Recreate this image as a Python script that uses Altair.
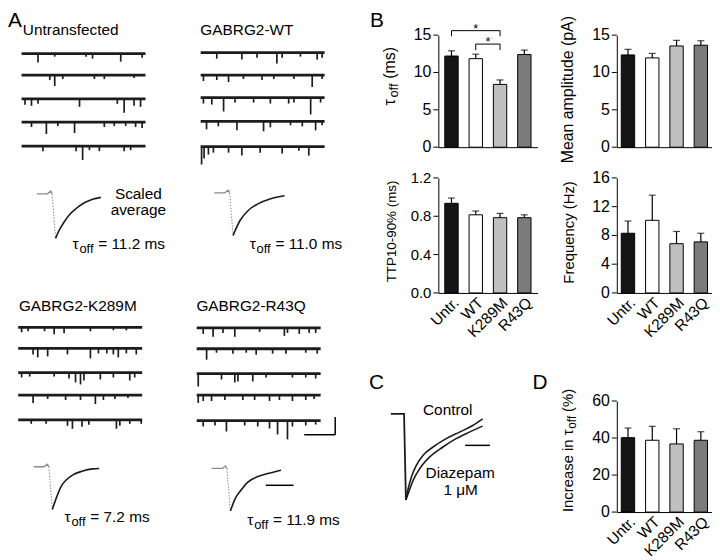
import altair as alt
import pandas as pd

FONT = "Liberation Sans"

# ---------------- data ----------------
groups = ["Untr.", "WT", "K289M", "R43Q"]
bar_colors = ["#151515", "#ffffff", "#c0c0c0", "#7b7b7b"]

tau_mean = [12.2, 11.85, 8.4, 12.4]
tau_err = [0.7, 0.6, 0.6, 0.6]
amp_mean = [12.35, 11.95, 13.55, 13.65]
amp_err = [0.75, 0.6, 0.75, 0.6]
ttp_mean = [0.935, 0.815, 0.785, 0.785]
ttp_err = [0.055, 0.04, 0.045, 0.03]
freq_mean = [8.3, 10.1, 6.85, 7.1]
freq_err = [1.7, 3.5, 1.7, 1.2]
dz_mean = [40.2, 38.8, 36.8, 38.8]
dz_err = [5.2, 7.5, 8.2, 4.6]

tau_ticks = [0, 5, 10, 15]
amp_ticks = [0, 5, 10, 15]
ttp_ticks = [0.0, 0.4, 0.8, 1.2]
freq_ticks = [0, 4, 8, 12, 16]
dz_ticks = [0, 20, 40, 60]

sig_pairs = [("Untr.", "K289M"), ("WT", "K289M")]
sig_level = [15.6, 13.8]
sig_leg_bottom = [14.85, 13.0]

cond_titles = ["Untransfected", "GABRG2-WT", "GABRG2-K289M", "GABRG2-R43Q"]
cond_tau = ["11.2", "11.0", "7.2", "11.9"]

# event times (s) and amplitudes (pA) for the 5 example sweeps per condition
event_t = {
    "Untr.": [
        [0.53, 1.07, 2.08, 2.29, 3.20, 3.89],
        [0.91, 1.07, 1.33, 2.35, 2.67, 3.63],
        [0.11, 0.32, 0.53, 1.87, 3.09, 3.31, 3.63, 3.84],
        [0.32, 0.80, 1.17, 1.71, 2.67, 2.99, 3.36, 3.68, 3.89],
        [0.69, 1.76, 1.97, 2.19, 2.51, 3.31, 3.52],
    ],
    "WT": [
        [0.52, 1.33, 1.82, 2.46, 2.63, 3.22, 3.76, 3.92],
        [0.09, 0.52, 0.90, 1.38, 1.98, 2.36, 3.01, 3.60, 3.92],
        [0.09, 0.36, 0.74, 1.11, 1.71, 2.25, 2.84, 3.01, 3.55, 3.87],
        [0.19, 0.57, 1.17, 2.03, 2.25, 2.90, 3.28, 3.71, 3.92],
        [0.03, 0.11, 0.25, 0.41, 0.90, 1.33, 1.92, 2.63, 3.17, 3.49],
    ],
    "K289M": [
        [0.11, 0.32, 0.85, 1.16, 1.48, 2.33, 3.07, 3.49],
        [0.48, 0.63, 0.95, 1.59, 2.33, 2.59, 2.86, 3.07, 3.23, 3.49, 3.81],
        [0.11, 0.37, 1.16, 1.64, 1.85, 2.01, 2.12, 2.65, 3.07, 3.60, 3.76],
        [0.48, 0.95, 1.53, 2.01, 2.49, 2.75, 3.12, 3.54],
        [0.42, 0.90, 1.59, 1.75, 2.06, 2.28, 3.17, 3.28, 3.60, 3.97],
    ],
    "R43Q": [
        [0.21, 0.53, 0.85, 1.23, 2.03, 2.83, 2.93, 3.31, 3.63, 3.84],
        [0.32, 0.64, 1.17, 1.60, 1.92, 2.45, 2.88, 3.52, 3.89],
        [0.05, 0.80, 1.23, 1.33, 1.81, 2.24, 3.09, 3.52, 3.84],
        [0.05, 0.21, 0.48, 0.91, 1.49, 1.87, 2.35, 2.67, 3.09, 3.52, 3.79],
        [0.21, 0.59, 0.96, 1.55, 1.97, 2.35, 2.61, 2.93, 3.09, 3.52, 3.84],
    ],
}
event_a = {
    "Untr.": [
        [9, 3, 3, 5, 8, 4],
        [5, 11, 4, 4, 4, 3],
        [6, 7, 5, 8, 5, 14, 7, 8],
        [5, 12, 4, 11, 5, 4, 4, 5, 6],
        [5, 5, 14, 4, 5, 5, 4],
    ],
    "WT": [
        [6, 7, 5, 11, 5, 4, 7, 5],
        [6, 5, 7, 4, 5, 4, 4, 12, 4],
        [6, 7, 14, 5, 5, 6, 6, 5, 17, 5],
        [8, 5, 9, 10, 6, 4, 5, 9, 4],
        [18, 12, 8, 6, 6, 9, 6, 7, 4, 9],
    ],
    "K289M": [
        [5, 4, 4, 7, 6, 4, 3, 3],
        [6, 9, 8, 6, 10, 5, 5, 6, 9, 5, 6],
        [5, 4, 4, 6, 10, 12, 8, 7, 5, 8, 5],
        [8, 4, 5, 5, 9, 5, 4, 3],
        [4, 4, 6, 9, 7, 5, 9, 6, 4, 4],
    ],
    "R43Q": [
        [6, 9, 5, 9, 4, 8, 5, 6, 5, 5],
        [11, 4, 5, 4, 6, 5, 5, 4, 5],
        [13, 6, 9, 8, 8, 4, 4, 4, 5],
        [8, 6, 6, 5, 5, 5, 6, 5, 6, 5, 4],
        [6, 5, 11, 5, 6, 8, 14, 19, 6, 5, 4],
    ],
}

# scaled averages: time (ms) from peak, normalised current
avg_pre_t = [-13.5, -6.0, -3.5, -2.5]
avg_pre_y = [0.0, 0.0, 0.06, 0.0]
avg_t = {
    "Untr.": [0, 2.9, 6.4, 10.0, 14.8, 20.7, 26.7, 32.6],
    "WT": [0, 5.0, 10.7, 17.9, 27.1, 37.1],
    "K289M": [0, 2.9, 6.4, 10.0, 14.8, 21.9, 29.0, 33.8],
    "R43Q": [0, 3.1, 7.9, 12.6, 19.8, 26.9, 36.4],
}
avg_y = {
    "Untr.": [-1.0, -0.80, -0.62, -0.47, -0.33, -0.20, -0.12, -0.08],
    "WT": [-1.0, -0.65, -0.42, -0.26, -0.14, -0.07],
    "K289M": [-1.0, -0.73, -0.46, -0.31, -0.19, -0.10, -0.05, -0.04],
    "R43Q": [-1.0, -0.73, -0.50, -0.32, -0.19, -0.12, -0.04],
}

# panel C: control vs diazepam (ms, normalised)
c_pre_t = [-12.2, -1.5]
c_pre_y = [0.0, 0.0]
ctrl_t = [0, 1.9, 4.5, 8.5, 13.9, 21.9, 32.5, 43.2, 53.9, 61.9]
ctrl_y = [-1.0, -0.865, -0.73, -0.596, -0.48, -0.385, -0.288, -0.212, -0.135, -0.058]
diaz_t = [0, 1.9, 5.9, 11.2, 19.2, 29.9, 40.5, 51.2, 61.9]
diaz_y = [-1.0, -0.923, -0.77, -0.635, -0.5, -0.385, -0.288, -0.212, -0.142]

# ---------------- layout constants ----------------
OFF = 8.0
A_W, A_H = 354, 540
PX_PER_S = 31.25
PX_PER_PA = 1.0
TRACE_LEN_S = 4.0
PX_PER_MS_A = 1.4
trace_x0 = {"Untr.": 21.7, "WT": 202.3, "K289M": 18.3, "R43Q": 198.3}
trace_y = {
    "Untr.": [51.7, 73.3, 97.3, 120.7, 145.0],
    "WT": [50.7, 73.3, 96.0, 120.0, 145.5],
    "K289M": [327.7, 349.0, 373.3, 396.0, 421.0],
    "R43Q": [328.3, 349.3, 374.3, 396.0, 421.7],
}
avg_pos = {"Untr.": (56.0, 193.0, 45.0), "WT": (235.0, 192.0, 43.0),
           "K289M": (52.7, 468.3, 43.0), "R43Q": (232.3, 470.0, 43.0)}
title_pos = [(23, 33), (202, 33), (19, 311.7), (198, 311.7)]
tau_pos = [(73, 248.3), (251.7, 248.3), (65, 524.5), (249.3, 527)]


def txt(s, x, y, size, align="left", baseline="alphabetic", angle=0, color="black", dx=0):
    return alt.Chart(pd.DataFrame({"s": [s]})).mark_text(
        align=align, baseline=baseline, angle=angle, fontSize=size,
        color=color, font=FONT, dx=dx
    ).encode(x=alt.value(x), y=alt.value(y), text="s:N")


# ---------------- panel A ----------------
XA = alt.Scale(domain=[0, A_W], range=[0, A_W])
YA = alt.Scale(domain=[0, A_H], range=[0, A_H])

base_rows, ev_rows = [], []
for g in groups:
    for i in range(5):
        y0 = trace_y[g][i] - OFF
        x0 = trace_x0[g] - OFF
        base_rows.append({"x": x0, "x2": x0 + TRACE_LEN_S * PX_PER_S, "y": y0})
        for t, a in zip(event_t[g][i], event_a[g][i]):
            ev_rows.append({"x": x0 + t * PX_PER_S, "y": y0, "y2": y0 + a * PX_PER_PA})

pre_rows, drop_rows, dec_rows = [], [], []
for g in groups:
    px, by, amp = avg_pos[g]
    for t, v in zip(avg_pre_t, avg_pre_y):
        pre_rows.append({"g": g, "t": t, "x": px + t * PX_PER_MS_A - OFF, "y": by - v * amp - OFF})
    for t, v in [(avg_pre_t[-1], avg_pre_y[-1]), (avg_t[g][0], avg_y[g][0])]:
        drop_rows.append({"g": g, "t": t, "x": px + t * PX_PER_MS_A - OFF, "y": by - v * amp - OFF})
    for t, v in zip(avg_t[g], avg_y[g]):
        dec_rows.append({"g": g, "t": t, "x": px + t * PX_PER_MS_A - OFF, "y": by - v * amp - OFF})

layersA = []
layersA.append(alt.Chart(pd.DataFrame(base_rows)).mark_rule(color="#1c1c1c", strokeWidth=2.8).encode(
    x=alt.X("x:Q", scale=XA, axis=None), x2="x2:Q", y=alt.Y("y:Q", scale=YA, axis=None)))
layersA.append(alt.Chart(pd.DataFrame(ev_rows)).mark_rule(color="#1c1c1c", strokeWidth=1.7).encode(
    x=alt.X("x:Q", scale=XA, axis=None), y=alt.Y("y:Q", scale=YA, axis=None), y2="y2:Q"))
layersA.append(alt.Chart(pd.DataFrame(pre_rows)).mark_line(color="#8a8a8a", strokeWidth=1.3).encode(
    x=alt.X("x:Q", scale=XA, axis=None), y=alt.Y("y:Q", scale=YA, axis=None), detail="g:N", order="t:Q"))
layersA.append(alt.Chart(pd.DataFrame(drop_rows)).mark_line(color="#8a8a8a", strokeWidth=1, strokeDash=[1.5, 1.5]).encode(
    x=alt.X("x:Q", scale=XA, axis=None), y=alt.Y("y:Q", scale=YA, axis=None), detail="g:N", order="t:Q"))
layersA.append(alt.Chart(pd.DataFrame(dec_rows)).mark_line(color="#1c1c1c", strokeWidth=1.6, interpolate="monotone").encode(
    x=alt.X("x:Q", scale=XA, axis=None), y=alt.Y("y:Q", scale=YA, axis=None), detail="g:N", order="t:Q"))

# scale bars (1 s x 18 pA for sweeps; 20 ms for averages)
sb_x_end, sb_y = 338 - OFF, 436 - OFF
sb_rows = [
    {"x": sb_x_end - 1.0 * PX_PER_S, "x2": sb_x_end, "y": sb_y, "y2": sb_y},
    {"x": sb_x_end, "x2": sb_x_end, "y": sb_y - 18 * PX_PER_PA, "y2": sb_y},
    {"x": 268 - OFF, "x2": 268 - OFF + 20 * PX_PER_MS_A, "y": 487 - OFF, "y2": 487 - OFF},
]
layersA.append(alt.Chart(pd.DataFrame(sb_rows)).mark_rule(color="black", strokeWidth=1.5).encode(
    x=alt.X("x:Q", scale=XA, axis=None), x2="x2:Q", y=alt.Y("y:Q", scale=YA, axis=None), y2="y2:Q"))

layersA.append(txt("A", 0, 0, 21, baseline="top"))
for name, (tx, ty) in zip(cond_titles, title_pos):
    layersA.append(txt(name, tx - OFF, ty - OFF, 15.5))
layersA.append(txt("Scaled", 139.5 - OFF, 198 - OFF, 15.5, align="center"))
layersA.append(txt("average", 139.5 - OFF, 214 - OFF, 15.5, align="center"))
for val, (tx, ty) in zip(cond_tau, tau_pos):
    x, y = tx - OFF, ty - OFF
    layersA.append(txt("τ", x, y, 15.5))
    layersA.append(txt("off", x + 7, y + 4, 13))
    layersA.append(txt(f"= {val} ms", x + 26, y, 15.5))

panelA = alt.layer(*layersA).properties(width=A_W, height=A_H)


# ---------------- bar panels ----------------
def bar_layers(mean, err, ymax, ticks, fmt, width, show_labels, label_size=16):
    df = pd.DataFrame({"group": groups, "mean": mean,
                       "upper": [m + e for m, e in zip(mean, err)]})
    step = 24.5
    po = ((width / step) - 4 + 0.45) / 2
    if show_labels:
        xaxis = alt.Axis(title=None, ticks=False, domainColor="black", labelAngle=315,
                         labelFontSize=15.5, labelPadding=2, labelColor="black",
                         labelAlign="right", labelBaseline="top", labelOverlap=False)
    else:
        xaxis = alt.Axis(title=None, ticks=False, labels=False, domainColor="black")
    xenc = alt.X("group:N", sort=groups,
                 scale=alt.Scale(domain=groups, paddingInner=0.45, paddingOuter=po), axis=xaxis)
    yscale = alt.Scale(domain=[0, ymax], nice=False)
    yenc = alt.Y("mean:Q", scale=yscale,
                 axis=alt.Axis(title=None, grid=False, ticks=False, labels=False,
                               domainColor="black"))
    base = alt.Chart(df)
    bars = base.mark_bar(stroke="black", strokeWidth=1).encode(
        x=xenc, y=yenc,
        color=alt.Color("group:N", scale=alt.Scale(domain=groups, range=bar_colors), legend=None))
    stem = base.mark_rule(color="black", strokeWidth=1.2).encode(
        x=alt.X("group:N", sort=groups), y="mean:Q", y2="upper:Q")
    cap = base.mark_tick(color="black", thickness=1.2, size=7, orient="horizontal").encode(
        x=alt.X("group:N", sort=groups), y="upper:Q")
    labs = [format(v, fmt) for v in ticks]
    tdf = pd.DataFrame({"v": ticks, "lab": labs})
    tick_rules = alt.Chart(tdf).mark_rule(color="black", strokeWidth=1).encode(
        y=alt.Y("v:Q"), x=alt.value(-5), x2=alt.value(0))
    tick_labels = alt.Chart(tdf).mark_text(align="right", baseline="middle", fontSize=label_size,
                                           font=FONT, color="black").encode(
        y=alt.Y("v:Q"), x=alt.value(-7), text="lab:N")
    return [bars, stem, cap, tick_rules, tick_labels]


W2, W3 = 100, 96
H1, H2, H3 = 113, 116, 112

# tau
tau_l = bar_layers(tau_mean, tau_err, 15, tau_ticks, "d", W2, False)
br = pd.DataFrame({"g1": [p[0] for p in sig_pairs], "g2": [p[1] for p in sig_pairs], "level": sig_level})
legs = pd.DataFrame({
    "g": [p[0] for p in sig_pairs] + [p[1] for p in sig_pairs],
    "top": sig_level + sig_level,
    "bottom": sig_leg_bottom + sig_leg_bottom,
})
tau_l.append(alt.Chart(br).mark_rule(color="black", strokeWidth=1).encode(
    x=alt.X("g1:N", sort=groups), x2="g2:N", y="level:Q"))
tau_l.append(alt.Chart(legs).mark_rule(color="black", strokeWidth=1).encode(
    x=alt.X("g:N", sort=groups), y="top:Q", y2="bottom:Q"))
star1 = pd.DataFrame({"g": ["WT"], "level": [sig_level[0]], "s": ["*"]})
star2 = pd.DataFrame({"g": ["K289M"], "level": [sig_level[1]], "s": ["*"]})
tau_l.append(alt.Chart(star1).mark_text(fontSize=13, dy=2, baseline="alphabetic", font=FONT).encode(
    x=alt.X("g:N", sort=groups), y="level:Q", text="s:N"))
tau_l.append(alt.Chart(star2).mark_text(fontSize=13, dy=2, dx=-12.25, baseline="alphabetic", font=FONT).encode(
    x=alt.X("g:N", sort=groups), y="level:Q", text="s:N"))
tau_l.append(txt("τ", -49, 71, 16, baseline="middle", angle=270))
tau_l.append(txt("off", -45, 63, 13, baseline="middle", angle=270))
tau_l.append(txt("(ms)", -49, 44, 16, baseline="middle", angle=270))
tau_chart = alt.layer(*tau_l).properties(width=W2, height=H1)

# amplitude
amp_l = bar_layers(amp_mean, amp_err, 15, amp_ticks, "d", W3, False)
amp_l.append(txt("Mean amplitude (pA)", -49, 55, 16, align="center", baseline="middle", angle=270))
amp_chart = alt.layer(*amp_l).properties(width=W3, height=H1)

# TTP
ttp_l = bar_layers(ttp_mean, ttp_err, 1.2, ttp_ticks, ".1f", W2, True, label_size=15)
ttp_l.append(txt("TTP10-90% (ms)", -47, 54, 13.5, align="center", baseline="middle", angle=270))
ttp_chart = alt.layer(*ttp_l).properties(width=W2, height=H2)

# frequency
fr_l = bar_layers(freq_mean, freq_err, 16, freq_ticks, "d", W3, True)
fr_l.append(txt("Frequency (Hz)", -48, 55, 15, align="center", baseline="middle", angle=270))
freq_chart = alt.layer(*fr_l).properties(width=W3, height=H2)

# D
d_l = bar_layers(dz_mean, dz_err, 60, dz_ticks, "d", W3, True)
d_l.append(txt("Increase in τ", -49, 112, 15, baseline="middle", angle=270))
d_l.append(txt("off", -45, 28, 12, baseline="middle", angle=270))
d_l.append(txt("(%)", -49, 11, 15, baseline="middle", angle=270))
d_l.append(txt("D", -85, -12, 21))
d_chart = alt.layer(*d_l).properties(width=W3, height=H3)

# C
XC = alt.Scale(domain=[0, 80], range=[-32.7, 67.3])
YC = alt.Scale(domain=[-1, 0], range=[99.7, 13])
c_lin = pd.DataFrame({"t": c_pre_t + [0], "v": c_pre_y + [-1.0]})
c_dec = pd.DataFrame({"t": ctrl_t + diaz_t, "v": ctrl_y + diaz_y,
                      "k": ["Control"] * len(ctrl_t) + ["Diazepam"] * len(diaz_t)})
c_sb = pd.DataFrame({"t": [47.8], "t2": [67.8], "v": [-0.366]})
c_l = [
    alt.Chart(c_lin).mark_line(color="#1c1c1c", strokeWidth=1.8).encode(
        x=alt.X("t:Q", scale=XC, axis=None), y=alt.Y("v:Q", scale=YC, axis=None), order="t:Q"),
    alt.Chart(c_dec).mark_line(color="#1c1c1c", strokeWidth=1.6, interpolate="monotone").encode(
        x=alt.X("t:Q", scale=XC, axis=None), y=alt.Y("v:Q", scale=YC, axis=None), detail="k:N", order="t:Q"),
    alt.Chart(c_sb).mark_rule(color="black", strokeWidth=1.5).encode(
        x=alt.X("t:Q", scale=XC, axis=None), x2="t2:Q", y=alt.Y("v:Q", scale=YC, axis=None)),
    txt("C", -70, -12, 21),
    txt("Control", 9.5, 13.7, 15.5, align="center"),
    txt("Diazepam", 22, 78, 15.5, align="center"),
    txt("1 μM", 22.5, 94.5, 15.5, align="center"),
]
c_chart = alt.layer(*c_l).properties(width=W2, height=H3)


def spacer(w, h, extra=None):
    base = alt.Chart(pd.DataFrame({"s": [""]})).mark_text(baseline="top", align="left", fontSize=1).encode(
        x=alt.value(w / 2), y=alt.value(h / 2), text="s:N")
    return alt.layer(base, *(extra or [])).properties(width=w, height=h)


col2 = alt.vconcat(
    spacer(W2, 25, [txt("B", -69, 0, 21, baseline="top")]),
    tau_chart, spacer(W2, 31), ttp_chart, spacer(W2, 109), c_chart,
    spacing=0, bounds="flush")
col3 = alt.vconcat(
    spacer(W3, 25), amp_chart, spacer(W3, 31), freq_chart, spacer(W3, 109), d_chart,
    spacing=0, bounds="flush")

# nested concat columns count as zero width in flush layout -> explicit gap
gap = spacer(W2 - 80, 10)

chart = alt.hconcat(panelA, col2, gap, col3, spacing=80, bounds="flush").properties(
    padding=0).configure(font=FONT).configure_view(stroke=None)

chart.save("out.html", embed_options={"renderer": "svg", "actions": False})
